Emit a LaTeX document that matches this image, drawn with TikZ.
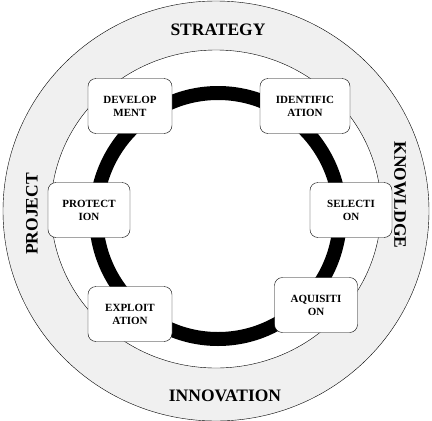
\documentclass[tikz,border=0pt]{standalone}
\usepackage{fontspec}
\setmainfont{Liberation Serif}
\usetikzlibrary{positioning}

\begin{document}
\begin{tikzpicture}[x=1pt,y=-1pt,
	stage/.style={draw, thin, rounded corners=8pt, fill=white, align=center, inner sep=0pt,
		minimum width=84pt, minimum height=55pt, font=\bfseries\fontsize{11}{13}\selectfont},
	ringlabel/.style={font=\bfseries\fontsize{17.5}{20}\selectfont}]
		\useasboundingbox (0,0) rectangle (432,421);

		\draw[fill=black!6] (216,211) ellipse [x radius=213pt, y radius=210pt];
		\draw[fill=white] (216,209) ellipse [x radius=165pt, y radius=159pt];
		\draw[line width=14pt] (218,216) ellipse [x radius=122pt, y radius=123pt];

		\node[stage] (dev) at (130,106) {DEVELOP\\MENT};
		\node[stage, minimum width=90pt] (ident) at (305,106) {IDENTIFIC\\ATION};
		\node[stage, minimum width=82pt] (prot) at (89,210) {PROTECT\\ION};
		\node[stage, minimum width=82pt] (sel) at (351,210) {SELECTI\\ON};
		\node[stage] (expl) at (130,314) {EXPLOIT\\ATION};
		\node[stage, minimum width=83pt] (aqui) at (316,305) {AQUISITI\\ON};

		\node[ringlabel] (strat) at (218,30) {STRATEGY};
		\node[ringlabel] (innov) at (225,396) {INNOVATION};
		\node[ringlabel, rotate=90] (proj) at (32,214) {PROJECT};
		\node[ringlabel, rotate=-90] (know) at (400,195) {KNOWLDGE};
	\end{tikzpicture}
\end{document}
